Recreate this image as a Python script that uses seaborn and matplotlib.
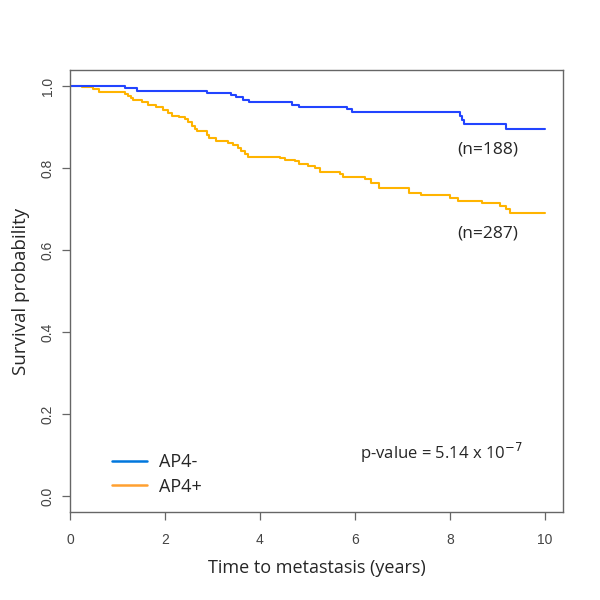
import matplotlib
matplotlib.use("Agg")
import matplotlib.pyplot as plt
import seaborn as sns
import pandas as pd
from matplotlib.lines import Line2D

# Kaplan-Meier steps
neg_time = [0.0, 1.16, 1.41, 2.89, 3.39, 3.49, 3.64, 3.77, 4.67, 4.82, 5.83, 5.94,
            8.21, 8.25, 8.30, 9.17, 10.0]
neg_surv = [1.0, 0.994, 0.989, 0.984, 0.978, 0.972, 0.966, 0.960, 0.954, 0.949, 0.943, 0.936,
            0.928, 0.918, 0.907, 0.895, 0.895]

pos_time = [0.0, 0.25, 0.49, 0.60, 1.16, 1.23, 1.28, 1.33, 1.51, 1.65, 1.82, 1.96, 2.07, 2.14,
            2.30, 2.42, 2.49, 2.56, 2.63, 2.67, 2.88, 2.93, 3.07, 3.33, 3.44, 3.54, 3.61, 3.68,
            3.75, 4.42, 4.53, 4.74, 4.83, 5.02, 5.16, 5.26, 5.68, 5.75, 6.21, 6.33, 6.51, 7.14,
            7.38, 8.01, 8.16, 8.67, 9.05, 9.19, 9.26, 10.0]
pos_surv = [1.0, 0.997, 0.992, 0.985, 0.980, 0.976, 0.971, 0.966, 0.960, 0.954, 0.948, 0.941,
            0.934, 0.927, 0.924, 0.919, 0.911, 0.902, 0.894, 0.890, 0.880, 0.874, 0.866, 0.862,
            0.856, 0.848, 0.842, 0.834, 0.828, 0.824, 0.820, 0.816, 0.810, 0.805, 0.800, 0.791,
            0.785, 0.779, 0.772, 0.764, 0.751, 0.740, 0.733, 0.727, 0.720, 0.714, 0.707, 0.699,
            0.691, 0.691]

groups = ["AP4-", "AP4+"]
n_labels = ["(n=188)", "(n=287)"]
x_ticks = [0, 2, 4, 6, 8, 10]
y_ticks = [0.0, 0.2, 0.4, 0.6, 0.8, 1.0]

sns.set_style("white")
plt.rcParams['font.family'] = ['Open Sans', 'DejaVu Sans']

fig = plt.figure(figsize=(6, 6), dpi=100)
ax = fig.add_axes([0.1167, 0.1467, 0.8216, 0.7366])

neg = pd.DataFrame({"time": neg_time, "surv": neg_surv})
pos = pd.DataFrame({"time": pos_time, "surv": pos_surv})
sns.lineplot(data=pos, x="time", y="surv", drawstyle="steps-post", color="#FFB400",
             linewidth=1.5, estimator=None, sort=False, ax=ax)
sns.lineplot(data=neg, x="time", y="surv", drawstyle="steps-post", color="#2244FF",
             linewidth=1.5, estimator=None, sort=False, ax=ax)

ax.set_xlim(0, 10.38)
ax.set_ylim(-0.039, 1.039)
ax.set_xticks(x_ticks)
ax.set_yticks(y_ticks)
ax.set_xticklabels([str(t) for t in x_ticks], family="Liberation Sans", color="#444444", fontsize=10)
ax.set_yticklabels([f"{t:.1f}" for t in y_ticks], family="Liberation Sans", color="#444444",
                   fontsize=10, rotation=90, va="center")
ax.tick_params(direction="out", length=6, width=0.9, color="#666666", pad=5, left=True, bottom=True)
ax.tick_params(axis="x", pad=9)
for s in ax.spines.values():
    s.set_color("#666666")
    s.set_linewidth(1.0)

ax.set_xlabel("Time to metastasis (years)", fontsize=13, labelpad=9)
ax.set_ylabel("Survival probability", fontsize=13.5, labelpad=8)

ax.text(8.8, 0.845, n_labels[0], fontsize=12.5, ha="center", va="center")
ax.text(8.8, 0.64, n_labels[1], fontsize=12.5, ha="center", va="center")
ax.text(9.54, 0.105, r"p-value = 5.14 x 10$^{-7}$", fontsize=12, ha="right", va="center")

handles = [Line2D([], [], color="#0077DD", lw=1.8), Line2D([], [], color="#FFA030", lw=1.8)]
ax.legend(handles, groups, loc="lower left", bbox_to_anchor=(0.053, 0.0), frameon=False,
          fontsize=13, handlelength=1.9, handletextpad=0.7, labelspacing=0.35)

fig.savefig("out.png", dpi=100)
